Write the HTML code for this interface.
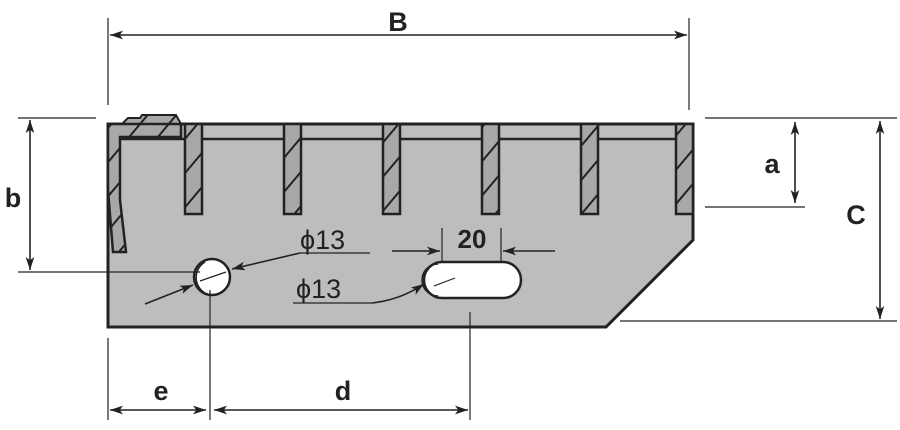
<!DOCTYPE html>
<html><head><style>html,body{margin:0;padding:0;background:#fff;width:900px;height:430px;overflow:hidden}</style></head>
<body>
<svg width="900" height="430" viewBox="0 0 900 430" xmlns="http://www.w3.org/2000/svg" font-family="Liberation Sans, sans-serif">
<defs>
<marker id="ar" viewBox="0 0 12 8" refX="12" refY="4" markerWidth="13" markerHeight="9" markerUnits="userSpaceOnUse" orient="auto-start-reverse">
<path d="M0,0 L12,4 L0,8 L3,4 Z" fill="#222"/></marker>
<pattern id="h" width="22" height="22" patternUnits="userSpaceOnUse" patternTransform="rotate(-50)">
<rect width="22" height="22" fill="#a8a8a8"/><line x1="0" y1="11" x2="22" y2="11" stroke="#222" stroke-width="2"/></pattern>
</defs>
<path d="M108,124 L693,124 L693,240 L606,327 L108,327 Z" fill="#bdbdbd" stroke="#222" stroke-width="3"/>
<line x1="120" y1="139" x2="693" y2="139" stroke="#222" stroke-width="2.5"/>
<path d="M122,124 L128,118 L140,118 L142,115 L176,115 L181,124 Z" fill="url(#h)" stroke="#222" stroke-width="2"/>
<path d="M108,124 L181,124 L181,137 L120,137 L120,200 L126,252 L113,252 L108,190 Z" fill="url(#h)" stroke="#222" stroke-width="2.5"/>
<g fill="url(#h)" stroke="#222" stroke-width="2.5">
<rect x="185" y="124" width="17" height="90"/>
<rect x="284" y="124" width="17" height="90"/>
<rect x="383" y="124" width="17" height="90"/>
<rect x="482" y="124" width="17" height="90"/>
<rect x="581" y="124" width="17" height="90"/>
<rect x="676" y="124" width="17" height="90"/>
</g>
<circle cx="212" cy="277" r="18" fill="#fff" stroke="#222" stroke-width="2.5"/>
<path d="M205,262 A18,18 0 0 0 205,293" fill="none" stroke="#222" stroke-width="1.5"/>
<rect x="424" y="262" width="97" height="36" rx="18" fill="#fff" stroke="#222" stroke-width="2.5"/>
<path d="M438,264 A16,16 0 0 0 438,296" fill="none" stroke="#222" stroke-width="1.5"/>
<g stroke="#222" stroke-width="1.2" fill="none">
<line x1="108" y1="18" x2="108" y2="105"/>
<line x1="689" y1="18" x2="689" y2="110"/>
<line x1="18" y1="118" x2="96" y2="118"/>
<line x1="18" y1="272" x2="200" y2="272"/>
<line x1="705" y1="118" x2="897" y2="118"/>
<line x1="705" y1="207" x2="805" y2="207"/>
<line x1="620" y1="321" x2="897" y2="321"/>
<line x1="108" y1="338" x2="108" y2="420"/>
<line x1="210" y1="290" x2="210" y2="420"/>
<line x1="470" y1="312" x2="470" y2="420"/>
<line x1="442" y1="228" x2="442" y2="262"/>
<line x1="501" y1="228" x2="501" y2="262"/>
<line x1="300" y1="253" x2="370" y2="253"/>
<line x1="293" y1="303" x2="372" y2="303"/>
<line x1="200" y1="281" x2="226" y2="272"/>
<line x1="434" y1="286" x2="455" y2="278"/>
</g>
<g stroke="#222" stroke-width="1.6" fill="none">
<line x1="110" y1="35" x2="687" y2="35" marker-start="url(#ar)" marker-end="url(#ar)"/>
<line x1="30" y1="120" x2="30" y2="270" marker-start="url(#ar)" marker-end="url(#ar)"/>
<line x1="795" y1="122" x2="795" y2="203" marker-start="url(#ar)" marker-end="url(#ar)"/>
<line x1="880" y1="121" x2="880" y2="319" marker-start="url(#ar)" marker-end="url(#ar)"/>
<line x1="110" y1="410" x2="206" y2="410" marker-start="url(#ar)" marker-end="url(#ar)"/>
<line x1="214" y1="410" x2="468" y2="410" marker-start="url(#ar)" marker-end="url(#ar)"/>
<line x1="392" y1="251" x2="440" y2="251" marker-end="url(#ar)"/>
<line x1="555" y1="251" x2="503" y2="251" marker-end="url(#ar)"/>
<polyline points="300,253 232,269" marker-end="url(#ar)"/>
<line x1="145" y1="304" x2="193" y2="285" marker-end="url(#ar)"/>
<path d="M372,303 Q400,300 424,284" marker-end="url(#ar)"/>
</g>
<g fill="#222" font-weight="bold" font-size="27" text-anchor="middle">
<text x="398" y="31">B</text>
<text x="13" y="207">b</text>
<text x="772" y="173">a</text>
<text x="856" y="224">C</text>
<text x="161" y="400">e</text>
<text x="343" y="400">d</text>
<text x="472" y="248" font-size="26">20</text>
</g>
<g fill="#222" font-size="27">
<text x="300" y="249">ϕ13</text>
<text x="296" y="298">ϕ13</text>
</g>
</svg>
</body></html>
